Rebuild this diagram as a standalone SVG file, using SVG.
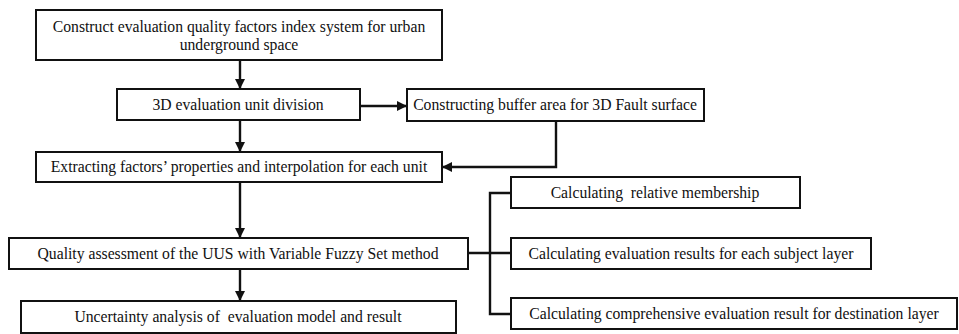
<svg xmlns="http://www.w3.org/2000/svg" width="959" height="334" viewBox="0 0 959 334">
<style>
.box{fill:#fff;stroke:#111;stroke-width:2}
.t{font-family:"Liberation Serif","Times New Roman",serif;font-size:15.7px;fill:#111;text-anchor:middle}
.c{fill:none;stroke:#111;stroke-width:2.4}
</style>
<defs>
<marker id="ah" viewBox="0 0 10 10" refX="9" refY="5" markerWidth="4.2" markerHeight="4.2" orient="auto" markerUnits="strokeWidth">
<path d="M0,0 L10,5 L0,10 z" fill="#111"/>
</marker>
</defs>
<rect width="959" height="334" fill="#fff"/>
<g id="connectors">
<path class="c" d="M240,60 V88" marker-end="url(#ah)"/>
<path class="c" d="M240,120 V151" marker-end="url(#ah)"/>
<path class="c" d="M360,106 H406" marker-end="url(#ah)"/>
<path class="c" d="M556,121 V167 H443" marker-end="url(#ah)"/>
<path class="c" d="M240,182 V237" marker-end="url(#ah)"/>
<path class="c" d="M240,269 V300" marker-end="url(#ah)"/>
<path class="c" d="M468,253 H511"/>
<path class="c" d="M511,193 H490 V314 H511"/>
</g>
<g id="n1"><rect class="box" x="36" y="10" width="406" height="50"/>
<text class="t" x="239" y="32">Construct evaluation quality factors index system for urban</text>
<text class="t" x="239" y="50">underground space</text></g>
<g id="n2"><rect class="box" x="117" y="89" width="243" height="31"/>
<text class="t" x="238" y="110">3D evaluation unit division</text></g>
<g id="n3"><rect class="box" x="407" y="89" width="297" height="32"/>
<text class="t" x="555" y="110">Constructing buffer area for 3D Fault surface</text></g>
<g id="n4"><rect class="box" x="36" y="152" width="406" height="30"/>
<text class="t" x="239" y="172">Extracting factors’ properties and interpolation for each unit</text></g>
<g id="n5"><rect class="box" x="9" y="238" width="459" height="31"/>
<text class="t" x="238" y="259">Quality assessment of the UUS with Variable Fuzzy Set method</text></g>
<g id="n6"><rect class="box" x="21" y="301" width="435" height="32"/>
<text class="t" x="238" y="322" xml:space="preserve">Uncertainty analysis of  evaluation model and result</text></g>
<g id="n7"><rect class="box" x="511" y="177" width="289" height="31"/>
<text class="t" x="655" y="198" xml:space="preserve">Calculating  relative membership</text></g>
<g id="n8"><rect class="box" x="511" y="238" width="360" height="31"/>
<text class="t" x="691" y="259">Calculating evaluation results for each subject layer</text></g>
<g id="n9"><rect class="box" x="511" y="298" width="446" height="31"/>
<text class="t" x="734" y="319">Calculating comprehensive evaluation result for destination layer</text></g>
</svg>
